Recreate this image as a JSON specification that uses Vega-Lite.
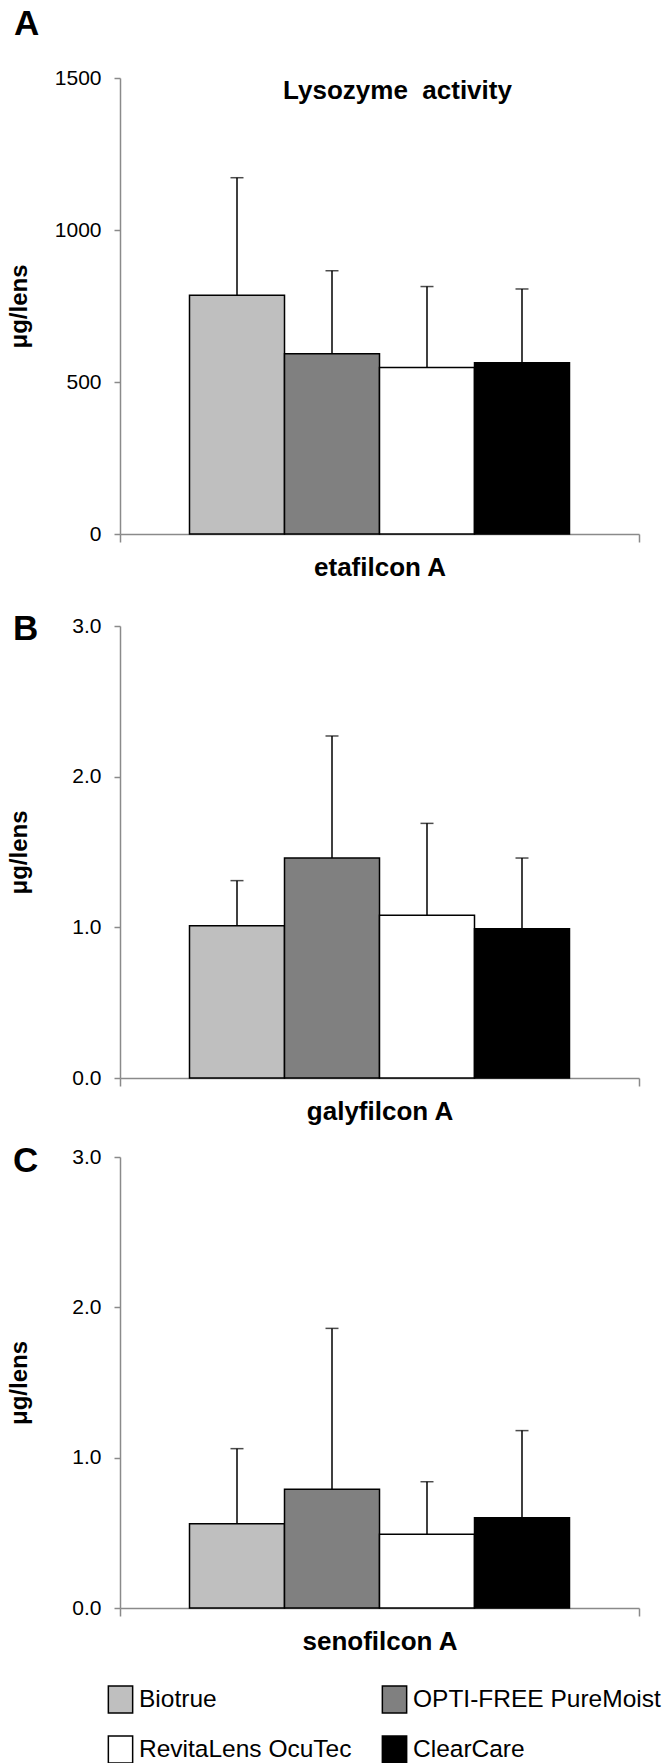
{
  "$schema": "https://vega.github.io/schema/vega-lite/v6.json",
  "autosize": {"type": "none"},
  "padding": {"left": 120, "top": 78, "right": 543, "bottom": 1685},
  "background": "white",
  "datasets": {
    "eta": [
      {"lens": "etafilcon A", "solution": "Biotrue", "mean": 785, "upper": 1172},
      {"lens": "etafilcon A", "solution": "OPTI-FREE PureMoist", "mean": 593, "upper": 866},
      {"lens": "etafilcon A", "solution": "RevitaLens OcuTec", "mean": 548, "upper": 814},
      {"lens": "etafilcon A", "solution": "ClearCare", "mean": 563, "upper": 806}
    ],
    "galy": [
      {"lens": "galyfilcon A", "solution": "Biotrue", "mean": 1.01, "upper": 1.31},
      {"lens": "galyfilcon A", "solution": "OPTI-FREE PureMoist", "mean": 1.46, "upper": 2.27},
      {"lens": "galyfilcon A", "solution": "RevitaLens OcuTec", "mean": 1.08, "upper": 1.69},
      {"lens": "galyfilcon A", "solution": "ClearCare", "mean": 0.99, "upper": 1.46}
    ],
    "seno": [
      {"lens": "senofilcon A", "solution": "Biotrue", "mean": 0.56, "upper": 1.06},
      {"lens": "senofilcon A", "solution": "OPTI-FREE PureMoist", "mean": 0.79, "upper": 1.86},
      {"lens": "senofilcon A", "solution": "RevitaLens OcuTec", "mean": 0.49, "upper": 0.84},
      {"lens": "senofilcon A", "solution": "ClearCare", "mean": 0.60, "upper": 1.18}
    ]
  },
  "config": {
    "font": "Liberation Sans",
    "view": {"stroke": null},
    "title": {"fontSize": 35, "fontWeight": "bold", "color": "black", "anchor": "start", "frame": "group", "baseline": "alphabetic"},
    "axisY": {
      "domainColor": "#8a8a8a", "domainWidth": 1.5, "tickColor": "#8a8a8a", "tickWidth": 1.5, "tickSize": 6,
      "labelFontSize": 21, "labelColor": "black", "labelPadding": 13, "grid": false,
      "titleFontSize": 24, "titleFontWeight": "bold", "titleColor": "black", "titlePadding": 24,
      "minExtent": 65, "maxExtent": 65
    },
    "axisX": {
      "domainColor": "#8a8a8a", "domainWidth": 1.5, "tickColor": "#8a8a8a", "tickWidth": 1.5, "tickSize": 8,
      "labels": false, "tickBand": "extent", "grid": false,
      "titleFontSize": 26, "titleFontWeight": "bold", "titleColor": "black", "titlePadding": 12
    }
  },
  "spacing": 92,
  "bounds": "flush",
  "vconcat": [
    {
      "width": 519, "height": 456,
      "title": {"text": "A", "dx": -106, "offset": 25},
      "layer": [
        {
          "data": {"name": "eta"},
          "mark": {"type": "bar", "stroke": "black", "strokeWidth": 1.5},
          "encoding": {
            "x": {"field": "lens", "type": "nominal", "title": "etafilcon A", "scale": {"paddingInner": 0, "paddingOuter": 0}},
            "xOffset": {"field": "solution", "type": "nominal", "scale": {"domain": ["Biotrue", "OPTI-FREE PureMoist", "RevitaLens OcuTec", "ClearCare"], "paddingInner": 0, "paddingOuter": 0.7316}},
            "y": {"field": "mean", "type": "quantitative", "title": "μg/lens", "scale": {"domain": [0, 1500], "nice": false}, "axis": {"values": [0, 500, 1000, 1500], "format": "d"}},
            "color": {
              "field": "solution", "type": "nominal",
              "scale": {"domain": ["Biotrue", "OPTI-FREE PureMoist", "RevitaLens OcuTec", "ClearCare"], "range": ["#bfbfbf", "#808080", "#ffffff", "#000000"]},
              "legend": {
                "orient": "none", "legendX": -14, "legendY": 1607, "columns": 2, "direction": "horizontal", "title": null,
                "symbolType": "M-0.9,-1H0.9V1H-0.9Z", "symbolSize": 729, "symbolStrokeColor": "black", "symbolStrokeWidth": 1.5, "symbolOpacity": 1,
                "labelFontSize": 24.5, "labelColor": "black", "labelOffset": 4, "columnPadding": 27, "rowPadding": 17, "labelLimit": 400
              }
            }
          }
        },
        {
          "data": {"name": "eta"},
          "mark": {"type": "rule", "color": "black", "strokeWidth": 1.5},
          "encoding": {
            "x": {"field": "lens", "type": "nominal"},
            "xOffset": {"field": "solution", "type": "nominal"},
            "y": {"field": "mean", "type": "quantitative"},
            "y2": {"field": "upper"}
          }
        },
        {
          "data": {"name": "eta"},
          "mark": {"type": "tick", "color": "black", "size": 13, "thickness": 1.5, "orient": "horizontal"},
          "encoding": {
            "x": {"field": "lens", "type": "nominal"},
            "xOffset": {"field": "solution", "type": "nominal"},
            "y": {"field": "upper", "type": "quantitative"}
          }
        },
        {
          "data": {"values": [{"label": "Lysozyme\u00a0 activity"}]},
          "mark": {"type": "text", "fontSize": 26, "fontWeight": "bold", "baseline": "alphabetic", "align": "center", "dx": 18, "dy": 21, "color": "black"},
          "encoding": {
            "text": {"field": "label"},
            "x": {"datum": "etafilcon A"},
            "y": {"datum": 1500}
          }
        }
      ]
    },
    {
      "spacing": 79,
      "bounds": "flush",
      "vconcat": [
        {
          "width": 519, "height": 452,
          "title": {"text": "B", "dx": -107, "offset": -32},
          "layer": [
            {
              "data": {"name": "galy"},
              "mark": {"type": "bar", "stroke": "black", "strokeWidth": 1.5},
              "encoding": {
                "x": {"field": "lens", "type": "nominal", "title": "galyfilcon A", "scale": {"paddingInner": 0, "paddingOuter": 0}},
                "xOffset": {"field": "solution", "type": "nominal", "scale": {"domain": ["Biotrue", "OPTI-FREE PureMoist", "RevitaLens OcuTec", "ClearCare"], "paddingInner": 0, "paddingOuter": 0.7316}},
                "y": {"field": "mean", "type": "quantitative", "title": "μg/lens", "scale": {"domain": [0, 3], "nice": false}, "axis": {"values": [0, 1, 2, 3], "format": ".1f"}},
                "color": {
                  "field": "solution", "type": "nominal",
                  "scale": {"domain": ["Biotrue", "OPTI-FREE PureMoist", "RevitaLens OcuTec", "ClearCare"], "range": ["#bfbfbf", "#808080", "#ffffff", "#000000"]},
                  "legend": {
                    "orient": "none", "legendX": -14, "legendY": 1607, "columns": 2, "direction": "horizontal", "title": null,
                    "symbolType": "M-0.9,-1H0.9V1H-0.9Z", "symbolSize": 729, "symbolStrokeColor": "black", "symbolStrokeWidth": 1.5, "symbolOpacity": 1,
                    "labelFontSize": 24.5, "labelColor": "black", "labelOffset": 4, "columnPadding": 27, "rowPadding": 17, "labelLimit": 400
                  }
                }
              }
            },
            {
              "data": {"name": "galy"},
              "mark": {"type": "rule", "color": "black", "strokeWidth": 1.5},
              "encoding": {
                "x": {"field": "lens", "type": "nominal"},
                "xOffset": {"field": "solution", "type": "nominal"},
                "y": {"field": "mean", "type": "quantitative"},
                "y2": {"field": "upper"}
              }
            },
            {
              "data": {"name": "galy"},
              "mark": {"type": "tick", "color": "black", "size": 13, "thickness": 1.5, "orient": "horizontal"},
              "encoding": {
                "x": {"field": "lens", "type": "nominal"},
                "xOffset": {"field": "solution", "type": "nominal"},
                "y": {"field": "upper", "type": "quantitative"}
              }
            }
          ]
        },
        {
          "width": 519, "height": 451,
          "title": {"text": "C", "dx": -107, "offset": -33},
          "layer": [
            {
              "data": {"name": "seno"},
              "mark": {"type": "bar", "stroke": "black", "strokeWidth": 1.5},
              "encoding": {
                "x": {"field": "lens", "type": "nominal", "title": "senofilcon A", "scale": {"paddingInner": 0, "paddingOuter": 0}},
                "xOffset": {"field": "solution", "type": "nominal", "scale": {"domain": ["Biotrue", "OPTI-FREE PureMoist", "RevitaLens OcuTec", "ClearCare"], "paddingInner": 0, "paddingOuter": 0.7316}},
                "y": {"field": "mean", "type": "quantitative", "title": "μg/lens", "scale": {"domain": [0, 3], "nice": false}, "axis": {"values": [0, 1, 2, 3], "format": ".1f"}},
                "color": {
                  "field": "solution", "type": "nominal",
                  "scale": {"domain": ["Biotrue", "OPTI-FREE PureMoist", "RevitaLens OcuTec", "ClearCare"], "range": ["#bfbfbf", "#808080", "#ffffff", "#000000"]},
                  "legend": {
                    "orient": "none", "legendX": -14, "legendY": 1607, "columns": 2, "direction": "horizontal", "title": null,
                    "symbolType": "M-0.9,-1H0.9V1H-0.9Z", "symbolSize": 729, "symbolStrokeColor": "black", "symbolStrokeWidth": 1.5, "symbolOpacity": 1,
                    "labelFontSize": 24.5, "labelColor": "black", "labelOffset": 4, "columnPadding": 27, "rowPadding": 17, "labelLimit": 400
                  }
                }
              }
            },
            {
              "data": {"name": "seno"},
              "mark": {"type": "rule", "color": "black", "strokeWidth": 1.5},
              "encoding": {
                "x": {"field": "lens", "type": "nominal"},
                "xOffset": {"field": "solution", "type": "nominal"},
                "y": {"field": "mean", "type": "quantitative"},
                "y2": {"field": "upper"}
              }
            },
            {
              "data": {"name": "seno"},
              "mark": {"type": "tick", "color": "black", "size": 13, "thickness": 1.5, "orient": "horizontal"},
              "encoding": {
                "x": {"field": "lens", "type": "nominal"},
                "xOffset": {"field": "solution", "type": "nominal"},
                "y": {"field": "upper", "type": "quantitative"}
              }
            }
          ]
        }
      ]
    }
  ]
}
